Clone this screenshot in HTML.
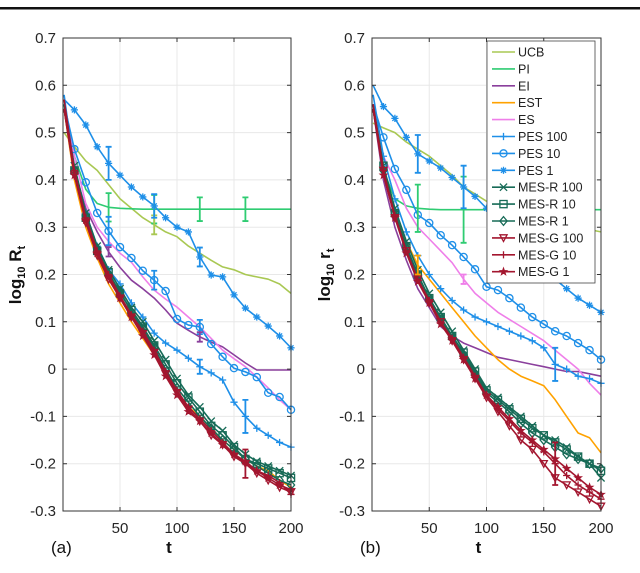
<!DOCTYPE html>
<html><head><meta charset="utf-8">
<style>
body{margin:0;background:#fff;}
svg{display:block;font-family:"Liberation Sans","DejaVu Sans",sans-serif;}
</style></head>
<body>
<svg id="fig" width="640" height="573" viewBox="0 0 640 573" xmlns="http://www.w3.org/2000/svg">
<rect x="0" y="7" width="640" height="2.5" fill="#111"/>
<g id="root"></g>
</svg>
<script>
const T=[1,10,20,30,40,50,60,70,80,90,100,110,120,130,140,150,160,170,180,190,200];
const XTICKS=[50,100,150,200];
const YTICKS=[-0.3,-0.2,-0.1,0,0.1,0.2,0.3,0.4,0.5,0.6,0.7];
const YTICK_LABELS=["-0.3","-0.2","-0.1","0","0.1","0.2","0.3","0.4","0.5","0.6","0.7"];
const NAMES=["UCB","PI","EI","EST","ES","PES 100","PES 10","PES 1","MES-R 100","MES-R 10","MES-R 1","MES-G 100","MES-G 10","MES-G 1"];
// panel (a)
const UCB_A=[0.50,0.47,0.44,0.42,0.39,0.36,0.34,0.32,0.305,0.29,0.28,0.26,0.245,0.23,0.216,0.21,0.20,0.195,0.19,0.18,0.16];
const PI_A=[0.55,0.45,0.38,0.35,0.342,0.34,0.339,0.338,0.338,0.338,0.338,0.338,0.338,0.338,0.338,0.338,0.338,0.338,0.338,0.338,0.338];
const EI_A=[0.55,0.42,0.34,0.29,0.248,0.215,0.188,0.17,0.15,0.125,0.097,0.082,0.068,0.057,0.047,0.03,0.013,-0.002,-0.002,-0.002,-0.002];
const EST_A=[0.55,0.40,0.30,0.235,0.18,0.14,0.10,0.065,0.03,-0.01,-0.05,-0.08,-0.10,-0.125,-0.15,-0.17,-0.19,-0.205,-0.215,-0.235,-0.25];
const ES_A=[0.55,0.45,0.35,0.30,0.27,0.245,0.226,0.195,0.167,0.148,0.131,0.11,0.089,0.065,0.04,0.022,0.005,-0.017,-0.04,-0.065,-0.086];
const PES100_A=[0.58,0.42,0.33,0.26,0.21,0.18,0.14,0.11,0.076,0.055,0.04,0.023,0.005,-0.008,-0.023,-0.07,-0.10,-0.125,-0.14,-0.155,-0.165];
const PES10_A=[0.56,0.465,0.395,0.33,0.292,0.258,0.235,0.208,0.188,0.165,0.106,0.093,0.089,0.053,0.026,0.002,-0.006,-0.017,-0.05,-0.059,-0.086];
const PES1_A=[0.57,0.548,0.516,0.47,0.435,0.41,0.385,0.364,0.345,0.32,0.30,0.29,0.237,0.199,0.195,0.157,0.129,0.11,0.091,0.07,0.045];
const MESR100_A=[0.55,0.43,0.33,0.26,0.21,0.17,0.13,0.10,0.06,0.02,-0.02,-0.055,-0.08,-0.11,-0.13,-0.16,-0.18,-0.195,-0.205,-0.215,-0.225];
const MESR10_A=[0.56,0.42,0.32,0.25,0.205,0.16,0.125,0.09,0.05,0.01,-0.03,-0.06,-0.09,-0.12,-0.14,-0.165,-0.19,-0.20,-0.21,-0.22,-0.23];
const MESR1_A=[0.55,0.42,0.325,0.255,0.20,0.165,0.12,0.085,0.045,0.0,-0.04,-0.07,-0.10,-0.125,-0.15,-0.17,-0.19,-0.205,-0.22,-0.235,-0.245];
const MESG100_A=[0.55,0.41,0.31,0.24,0.19,0.15,0.11,0.075,0.035,-0.01,-0.05,-0.085,-0.11,-0.14,-0.16,-0.185,-0.20,-0.22,-0.235,-0.25,-0.26];
const MESG10_A=[0.57,0.42,0.32,0.25,0.20,0.155,0.115,0.08,0.04,-0.005,-0.045,-0.08,-0.105,-0.13,-0.155,-0.18,-0.20,-0.215,-0.225,-0.24,-0.265];
const MESG1_A=[0.55,0.41,0.315,0.245,0.195,0.15,0.11,0.07,0.03,-0.015,-0.055,-0.09,-0.11,-0.135,-0.16,-0.18,-0.195,-0.215,-0.23,-0.245,-0.255];
// panel (b)
const UCB_B=[0.52,0.51,0.50,0.48,0.465,0.45,0.43,0.41,0.385,0.37,0.355,0.34,0.33,0.32,0.31,0.305,0.30,0.30,0.295,0.295,0.29];
const PI_B=[0.55,0.42,0.36,0.345,0.34,0.338,0.337,0.337,0.337,0.337,0.337,0.337,0.337,0.337,0.337,0.337,0.337,0.337,0.337,0.337,0.337];
const EI_B=[0.55,0.40,0.30,0.23,0.17,0.13,0.09,0.07,0.055,0.045,0.035,0.025,0.02,0.015,0.01,0.005,0.0,-0.005,-0.005,-0.01,-0.015];
const EST_B=[0.55,0.42,0.33,0.27,0.22,0.19,0.16,0.13,0.10,0.07,0.045,0.02,0.0,-0.015,-0.025,-0.035,-0.065,-0.10,-0.135,-0.145,-0.177];
const ES_B=[0.55,0.45,0.40,0.34,0.30,0.275,0.25,0.225,0.19,0.16,0.14,0.12,0.105,0.09,0.075,0.06,0.04,0.02,0.0,-0.03,-0.055];
const PES100_B=[0.58,0.45,0.36,0.29,0.24,0.20,0.17,0.145,0.125,0.11,0.10,0.09,0.08,0.07,0.06,0.045,0.01,0.0,-0.015,-0.02,-0.03];
const PES10_B=[0.56,0.49,0.423,0.379,0.326,0.309,0.283,0.262,0.237,0.211,0.174,0.167,0.15,0.13,0.11,0.095,0.08,0.07,0.055,0.04,0.02];
const PES1_B=[0.60,0.555,0.53,0.49,0.455,0.44,0.425,0.405,0.385,0.365,0.34,0.31,0.285,0.26,0.235,0.215,0.19,0.17,0.15,0.135,0.12];
const MESR100_B=[0.55,0.43,0.34,0.27,0.21,0.16,0.12,0.08,0.04,0.0,-0.04,-0.06,-0.08,-0.10,-0.12,-0.14,-0.15,-0.165,-0.185,-0.20,-0.23];
const MESR10_B=[0.56,0.43,0.33,0.26,0.20,0.15,0.11,0.07,0.035,-0.005,-0.045,-0.065,-0.085,-0.105,-0.125,-0.14,-0.155,-0.17,-0.185,-0.20,-0.215];
const MESR1_B=[0.55,0.42,0.33,0.255,0.195,0.145,0.105,0.065,0.03,-0.01,-0.05,-0.07,-0.09,-0.115,-0.135,-0.15,-0.165,-0.18,-0.19,-0.20,-0.21];
const MESG100_B=[0.55,0.42,0.32,0.25,0.19,0.14,0.10,0.06,0.02,-0.02,-0.06,-0.09,-0.12,-0.15,-0.17,-0.20,-0.23,-0.245,-0.26,-0.275,-0.29];
const MESG10_B=[0.56,0.42,0.325,0.25,0.19,0.145,0.10,0.065,0.025,-0.015,-0.055,-0.085,-0.11,-0.135,-0.155,-0.175,-0.20,-0.225,-0.245,-0.26,-0.275];
const MESG1_B=[0.55,0.41,0.32,0.245,0.185,0.14,0.095,0.06,0.02,-0.02,-0.055,-0.08,-0.105,-0.13,-0.15,-0.17,-0.19,-0.21,-0.23,-0.25,-0.265];
// error bars: [series index, t, half-width]
const ERR_A=[[1,40,0.03],[1,80,0.03],[1,120,0.025],[1,160,0.025],[0,80,0.02],[7,40,0.035],[7,80,0.025],[7,120,0.02],[6,40,0.03],[6,80,0.02],[6,120,0.015],[5,120,0.015],[5,160,0.035],[2,40,0.01],[2,120,0.01],[12,160,0.03]];
const ERR_B=[[1,40,0.05],[1,80,0.07],[7,40,0.04],[7,80,0.045],[5,160,0.035],[3,40,0.02],[4,80,0.01],[12,160,0.045]];

const STYLE=[
 {c:"#a9c853",m:null},{c:"#2fcc72",m:null},{c:"#8a3f9c",m:null},{c:"#ffa200",m:null},{c:"#ef7fe9",m:null},
 {c:"#1e8fe8",m:"plus"},{c:"#1e8fe8",m:"circle"},{c:"#1e8fe8",m:"asterisk"},
 {c:"#176b57",m:"x"},{c:"#176b57",m:"square"},{c:"#176b57",m:"diamond"},
 {c:"#a3162f",m:"tri"},{c:"#a3162f",m:"plus"},{c:"#a3162f",m:"star"}];
const SER_A=[UCB_A,PI_A,EI_A,EST_A,ES_A,PES100_A,PES10_A,PES1_A,MESR100_A,MESR10_A,MESR1_A,MESG100_A,MESG10_A,MESG1_A];
const SER_B=[UCB_B,PI_B,EI_B,EST_B,ES_B,PES100_B,PES10_B,PES1_B,MESR100_B,MESR10_B,MESR1_B,MESG100_B,MESG10_B,MESG1_B];

const NS="http://www.w3.org/2000/svg";
const root=document.getElementById("root");
function mk(tag,attrs,parent){const e=document.createElementNS(NS,tag);for(const k in attrs)e.setAttribute(k,attrs[k]);(parent||root).appendChild(e);return e;}
function marker(g,type,x,y,c){
  const r=3.6;
  if(type==="circle")mk("circle",{cx:x,cy:y,r:r,fill:"none",stroke:c,"stroke-width":1.3},g);
  else if(type==="square")mk("rect",{x:x-r,y:y-r,width:2*r,height:2*r,fill:"none",stroke:c,"stroke-width":1.3},g);
  else if(type==="diamond")mk("path",{d:`M${x} ${y-r-0.8}L${x+r} ${y}L${x} ${y+r+0.8}L${x-r} ${y}Z`,fill:"none",stroke:c,"stroke-width":1.3},g);
  else if(type==="tri")mk("path",{d:`M${x-r} ${y-r+0.5}L${x+r} ${y-r+0.5}L${x} ${y+r}Z`,fill:"none",stroke:c,"stroke-width":1.3},g);
  else if(type==="plus")mk("path",{d:`M${x-r} ${y}H${x+r}M${x} ${y-r}V${y+r}`,stroke:c,"stroke-width":1.3},g);
  else if(type==="x")mk("path",{d:`M${x-r} ${y-r}L${x+r} ${y+r}M${x-r} ${y+r}L${x+r} ${y-r}`,stroke:c,"stroke-width":1.3},g);
  else if(type==="asterisk")mk("path",{d:`M${x-r} ${y}H${x+r}M${x} ${y-r}V${y+r}M${x-r*.7} ${y-r*.7}L${x+r*.7} ${y+r*.7}M${x-r*.7} ${y+r*.7}L${x+r*.7} ${y-r*.7}`,stroke:c,"stroke-width":1.3},g);
  else if(type==="star"){let d="";for(let i=0;i<10;i++){const a=-Math.PI/2+i*Math.PI/5,rr=i%2?r*0.45:r*1.1;d+=(i?"L":"M")+(x+rr*Math.cos(a))+" "+(y+rr*Math.sin(a));}mk("path",{d:d+"Z",fill:c,stroke:c,"stroke-width":0.8},g);}
}
function panel(id,L,R,SER,ERR,ylab,sub){
  const top=38,bot=511;
  const sx=t=>L+(t)*(R-L)/200, sy=v=>top+(0.7-v)*(bot-top)/1.0;
  const g=mk("g",{});
  
  
  // grid
  XTICKS.forEach(t=>{const l=mk("line",{x1:sx(t),x2:sx(t),y1:top,y2:bot,stroke:"#e8e8e8","stroke-width":1},g);
    
    });
  YTICKS.forEach(v=>{const l=mk("line",{x1:L,x2:R,y1:sy(v),y2:sy(v),stroke:"#e8e8e8","stroke-width":1},g);
    
    });
  // series
  SER.forEach((arr,si)=>{
    const st=STYLE[si];
    const sg=mk("g",{},g);
    
    
    let d="";arr.forEach((v,i)=>{d+=(i?"L":"M")+sx(T[i]).toFixed(1)+" "+sy(v).toFixed(1);});
    mk("path",{d:d,fill:"none",stroke:st.c,"stroke-width":1.6,"stroke-linejoin":"round"},sg);
    if(st.m)arr.forEach((v,i)=>{if(i>0)marker(sg,st.m,sx(T[i]),sy(v),st.c);});
  });
  ERR.forEach(e=>{
    const si=e[0],i=T.indexOf(e[1]),v=SER[si][i],c=STYLE[si].c,x=sx(e[1]);
    const eg=mk("path",{d:`M${x} ${sy(v+e[2])}V${sy(v-e[2])}M${x-3} ${sy(v+e[2])}H${x+3}M${x-3} ${sy(v-e[2])}H${x+3}`,stroke:c,"stroke-width":1.8},g);
    
    
  });
  // axes box
  const box=mk("rect",{x:L,y:top,width:R-L,height:bot-top,fill:"none",stroke:"#333","stroke-width":1},g);
  
  
  XTICKS.forEach(t=>{
    mk("path",{d:`M${sx(t)} ${bot}v-4M${sx(t)} ${top}v4`,stroke:"#333"},g);
    const tx=mk("text",{x:sx(t),y:bot+22,"font-size":15,"text-anchor":"middle",fill:"#262626"},g);
    tx.textContent=t;
    
    
  });
  YTICKS.forEach((v,i)=>{
    mk("path",{d:`M${L} ${sy(v)}h4M${R} ${sy(v)}h-4`,stroke:"#333"},g);
    const tx=mk("text",{x:L-7,y:sy(v)+5,"font-size":15,"text-anchor":"end",fill:"#262626"},g);
    tx.textContent=YTICK_LABELS[i];
    
    
  });
  const xl=mk("text",{x:(L+R)/2-8,y:553,"font-size":17,"font-weight":"bold","text-anchor":"middle",fill:"#111"},g);
  xl.textContent="t";
  
  
  const yl=mk("text",{x:0,y:0,"font-size":17,"font-weight":"bold","text-anchor":"middle",fill:"#111",transform:`translate(${L-42},275) rotate(-90)`},g);
  yl.innerHTML=`log<tspan font-size="11" dy="4">10</tspan><tspan dy="-4"> ${ylab}</tspan><tspan font-size="11" dy="4">t</tspan>`;
  
  
  const sl=mk("text",{x:L-12,y:553,"font-size":17,fill:"#111"},g);
  sl.textContent=sub;
  
  
  return {sx,sy};
}
panel("a",63,291,SER_A,ERR_A,"R","(a)");
panel("b",372,601,SER_B,ERR_B,"r","(b)");
// legend
const lg=mk("g",{});


mk("rect",{x:487,y:41,width:108,height:242,fill:"#fff",stroke:"#444","stroke-width":0.8},lg);
NAMES.forEach((n,i)=>{
  const y=52+i*16.9, st=STYLE[i];
  const eg=mk("g",{},lg);
  
  
  mk("line",{x1:492,x2:515,y1:y,y2:y,stroke:st.c,"stroke-width":1.6},eg);
  if(st.m)marker(eg,st.m,503.5,y,st.c);
  const t=mk("text",{x:518,y:y+4.5,"font-size":12.5,fill:"#222"},eg);
  t.textContent=n;
});
</script>
</body></html>
